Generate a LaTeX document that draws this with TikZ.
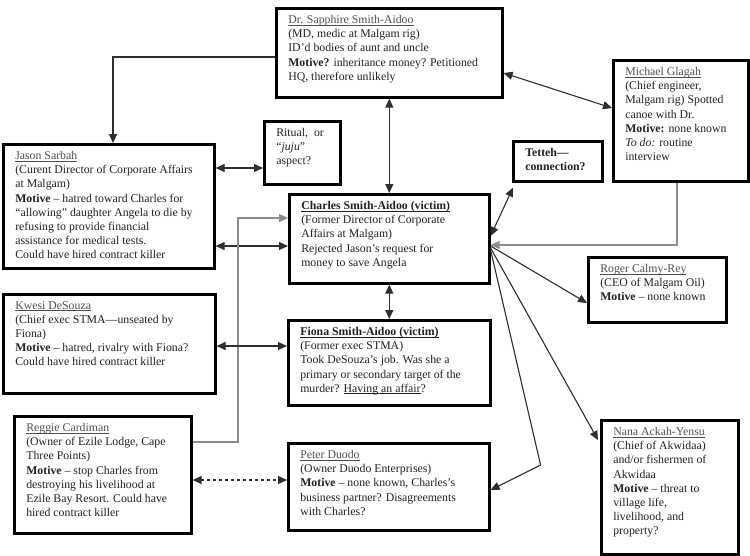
\documentclass[tikz,border=0pt]{standalone}
\usepackage{fontspec}
\setmainfont{Liberation Serif}
\usetikzlibrary{arrows.meta}
\definecolor{txt}{HTML}{222222}
\definecolor{nmc}{HTML}{505050}
\definecolor{ln}{HTML}{2E2E2E}
\definecolor{lg}{HTML}{8C8C8C}
\newcommand\uln[1]{\leavevmode\setbox0\hbox{#1}\rlap{\rule[-1.8pt]{\wd0}{0.6pt}}\box0}
\newcommand\nmu[1]{\textcolor{nmc}{\uln{#1}}}
\newcommand\suspectbox[6]{%
  \node[cbx, anchor=north west] (#1) at (#2,#3)
  {\parbox[c][\dimexpr #5pt-#3pt-14pt\relax][t]{\dimexpr #4pt-#2pt-24pt\relax}{\raggedright #6}};}
\tikzset{
  cbx/.style={draw=black, line width=2.6pt, fill=white, inner xsep=12pt, inner ysep=7pt,
    text=txt, font=\fontsize{11.8pt}{14.2pt}\selectfont},
  conn/.style={draw=ln, line width=1.1pt, -{Triangle[length=9pt,width=8pt]}},
  conn2/.style={draw=ln, line width=1.1pt, {Triangle[length=9pt,width=8pt]}-{Triangle[length=9pt,width=8pt]}},
  gconn/.style={draw=lg, line width=1.2pt, -{Triangle[length=9pt,width=8pt]}},
}
\begin{document}
\begin{tikzpicture}[x=1pt,y=-1pt]
\useasboundingbox[fill=white] (0,0) rectangle (750,555);

\suspectbox{sap}{275}{7}{501}{96}{\nmu{Dr. Sapphire Smith-Aidoo}\\
(MD, medic at Malgam rig)\\
ID'd bodies of aunt and uncle\\
\textbf{Motive?} inheritance money? Petitioned\\
HQ, therefore unlikely}

\suspectbox{jason}{2}{143}{213}{267}{\nmu{Jason Sarbah}\\
(Curent Director of Corporate Affairs\\
at Malgam)\\
\textbf{Motive} -- hatred toward Charles for\\
``allowing'' daughter Angela to die by\\
refusing to provide financial\\
assistance for medical tests.\\
Could have hired contract killer}

\suspectbox{ritual}{263}{120}{339}{183}{Ritual,~ or\\
``\textit{juju}''\\
aspect?}

\suspectbox{charles}{288}{193}{488}{282}{\uln{\textbf{Charles Smith-Aidoo (victim)}}\\
(Former Director of Corporate\\
Affairs at Malgam)\\
Rejected Jason's request for\\
money to save Angela}

\suspectbox{tetteh}{512}{140}{601}{180}{\textbf{Tetteh---}\\
\textbf{connection?}}

\suspectbox{mich}{612}{59}{747}{180}{\nmu{Michael Glagah}\\
(Chief engineer,\\
Malgam rig) Spotted\\
canoe with Dr.\\
\textbf{Motive:} none known\\
\textit{To do:} routine\\
interview}

\suspectbox{roger}{587}{256}{725}{321}{\nmu{Roger Calmy-Rey}\\
(CEO of Malgam Oil)\\
\textbf{Motive} -- none known}

\suspectbox{kwesi}{2}{293}{214}{392}{\nmu{Kwesi DeSouza}\\
(Chief exec STMA---unseated by\\
Fiona)\\
\textbf{Motive} -- hatred, rivalry with Fiona?\\
Could have hired contract killer}

\suspectbox{fiona}{287}{319}{489}{404}{\uln{\textbf{Fiona Smith-Aidoo (victim)}}\\
(Former exec STMA)\\
Took DeSouza's job. Was she a\\
primary or secondary target of the\\
murder? \uln{Having an affair}?}

\suspectbox{reggie}{13}{415}{190}{532}{\nmu{Reggie Cardiman}\\
(Owner of Ezile Lodge, Cape\\
Three Points)\\
\textbf{Motive} -- stop Charles from\\
destroying his livelihood at\\
Ezile Bay Resort. Could have\\
hired contract killer}

\suspectbox{peter}{287}{442}{488}{529}{\nmu{Peter Duodo}\\
(Owner Duodo Enterprises)\\
\textbf{Motive} -- none known, Charles's\\
business partner? Disagreements\\
with Charles?}

\suspectbox{nana}{600}{419}{737}{553}{\nmu{Nana Ackah-Yensu}\\
(Chief of Akwidaa)\\
and/or fishermen of\\
Akwidaa\\
\textbf{Motive} -- threat to\\
village life,\\
livelihood, and\\
property?}

% connectors
\draw[conn] ([yshift=-50pt]sap.north west) -| ([xshift=111pt]jason.north west);
\draw[conn2] (sap.south) -- (charles.north);
\draw[conn2] ([yshift=-66pt]sap.north east) -- ([yshift=-49pt]mich.north west);
\draw[conn2] ([yshift=-25pt]jason.north east) -- ([yshift=-48pt]ritual.north west);
\draw[conn2] ([yshift=-103pt]jason.north east) -- ([yshift=-53pt]charles.north west);
\draw[gconn] ([yshift=-27pt]reggie.north east) -| ([xshift=-50pt,yshift=-25pt]charles.north west) -- ([yshift=-25pt]charles.north west);
\draw[conn2] ([yshift=-53pt]kwesi.north east) -- ([yshift=-27pt]fiona.north west);
\draw[conn2] (charles.south) -- (fiona.north);
\draw[conn2, dashed] ([yshift=-65pt]reggie.north east) -- ([yshift=-38pt]peter.north west);
\draw[gconn] ([xshift=65pt]mich.south west) |- ([yshift=-52pt]charles.north east);
\draw[conn2] ([yshift=-43pt]charles.north east) -- ([xshift=1pt,yshift=-5pt]tetteh.south west);
\draw[conn] ([yshift=-53pt]charles.north east) -- ([yshift=-47pt]roger.north west);
\draw[conn] ([yshift=-55pt]charles.north east) -- ([xshift=-2pt,yshift=-21pt]nana.north west);
\draw[conn, -] ([yshift=-57pt]charles.north east) -- ([xshift=50pt,yshift=-23pt]peter.north east);
\draw[conn] ([xshift=50pt,yshift=-23pt]peter.north east) -- ([yshift=-48pt]peter.north east);
\end{tikzpicture}
\end{document}
